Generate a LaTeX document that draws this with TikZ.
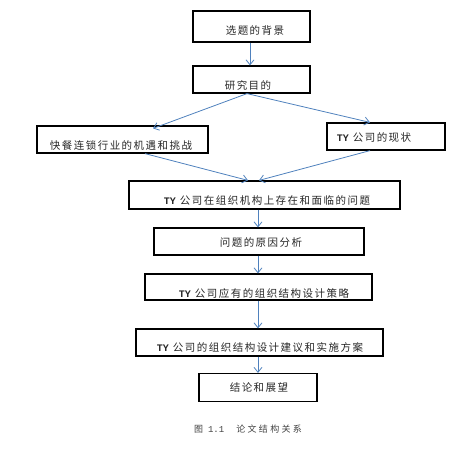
\documentclass[tikz,border=0pt]{standalone}
\usepackage{fontspec}
\usetikzlibrary{arrows.meta}
\newfontfamily\cjk[LetterSpace=14]{Noto Sans CJK SC}
\newfontfamily\capfont[LetterSpace=26]{Noto Sans CJK SC}
\newfontfamily\tyfont{Liberation Mono}
\definecolor{arrowblue}{RGB}{79,129,189}
\begin{document}
\begin{tikzpicture}[x=1pt,y=-1pt,
  box/.style={draw=black, line width=1.2pt, minimum width=#1, minimum height=27pt, inner sep=0pt},
  txt/.style={font=\cjk\fontsize{10.5}{12}\selectfont, inner sep=0pt, text=black!85},
  arr/.style={draw=arrowblue, line width=0.8pt, -{Straight Barb[length=5pt,width=8pt]}}]
\useasboundingbox (0,0) rectangle (460,451);
\newcommand\TY{{\tyfont\bfseries\fontsize{10}{12}\selectfont TY}\hspace{4pt}}
% boxes
\node[box=117pt, minimum height=31pt] (b1) at (251.5,26.5) {};
\node[box=117pt] (b2) at (251.5,79.5) {};
\node[box=171pt] (b3) at (122.5,139.5) {};
\node[box=118pt] (b4) at (386,136.5) {};
\node[box=271pt, minimum height=28pt] (b5) at (264.5,195) {};
\node[box=210pt] (b6) at (259,241.5) {};
\node[box=227pt, minimum height=26pt] (b7) at (258.5,287) {};
\node[box=247pt] (b8) at (259.5,342.5) {};
\node[box=118pt, minimum height=28pt] (b9) at (258,387.5) {};
% texts
\node[txt] (t1) at (255,30) {选题的背景};
\node[txt] (t2) at (248,85) {研究目的};
\node[txt] (t3) at (121,145) {快餐连锁行业的机遇和挑战};
\node[txt] (t4) at (374,137) {\TY 公司的现状};
\node[txt] (t5) at (267,200) {\TY 公司在组织机构上存在和面临的问题};
\node[txt] (t6) at (261,242) {问题的原因分析};
\node[txt] (t7) at (264,293) {\TY 公司应有的组织结构设计策略};
\node[txt] (t8) at (260,347) {\TY 公司的组织结构设计建议和实施方案};
\node[txt] (t9) at (259,387) {结论和展望};
\node[inner sep=0pt, text=black!75, font=\capfont\fontsize{9}{10}\selectfont] (cap) at (248,429)
  {图\hspace{5pt}{\tyfont\fontsize{9}{10}\selectfont 1.1}\hspace{12pt}论文结构关系};
% arrows
\draw[arr] ([xshift=-1.5pt]b1.south) -- ([xshift=-1.5pt]b2.north);
\draw[arr] ([xshift=-4.5pt]b2.south) -- ([xshift=30.5pt,yshift=-3pt]b3.north);
\draw[arr] ([xshift=-4.5pt]b2.south) -- ([xshift=-16pt]b4.north);
\draw[arr] ([xshift=22.5pt]b3.south) -- ([xshift=-16.5pt]b5.north);
\draw[arr] ([xshift=-16pt]b4.south) -- ([xshift=-5.5pt]b5.north);
\draw[arr] ([xshift=-6.5pt]b5.south) -- ([xshift=-1pt]b6.north);
\draw[arr] ([xshift=-1pt]b6.south) -- ([xshift=-0.5pt]b7.north);
\draw[arr] ([xshift=-0.5pt]b7.south) -- ([xshift=-1.5pt]b8.north);
\draw[arr] ([xshift=-1.5pt]b8.south) -- (b9.north);
\end{tikzpicture}
\end{document}
